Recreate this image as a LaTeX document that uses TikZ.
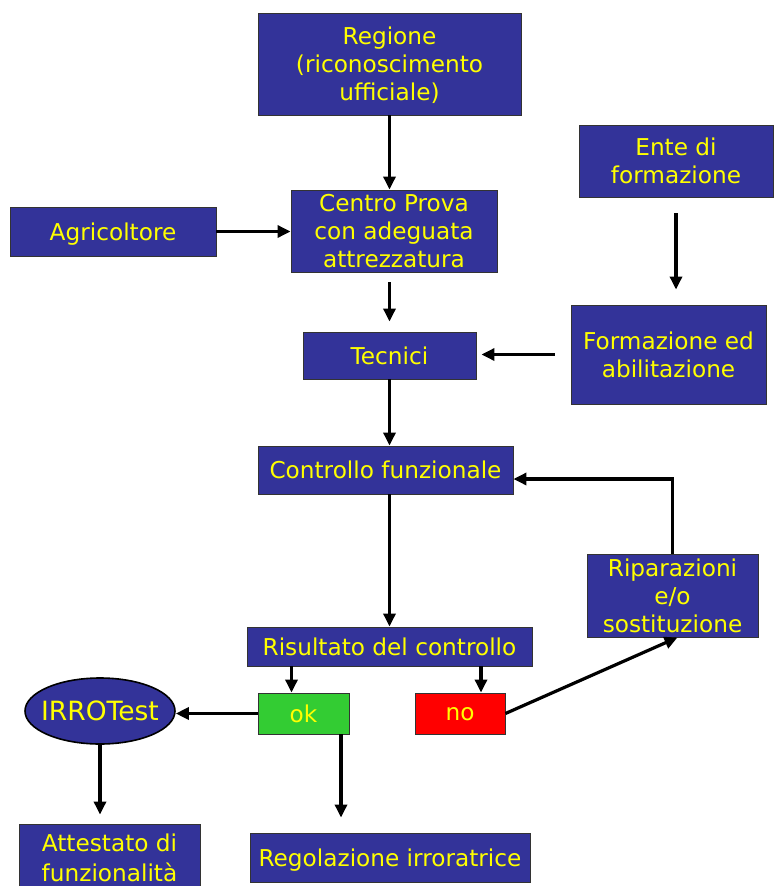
\documentclass[tikz,border=0pt]{standalone}
\usepackage{fontspec}
\setmainfont{DejaVu Sans}
\usetikzlibrary{arrows.meta,shapes.geometric}
\definecolor{boxblue}{HTML}{333399}
\definecolor{txtyellow}{HTML}{FFFF00}
\definecolor{okgreen}{HTML}{33CC33}
\definecolor{nored}{HTML}{FF0000}
\tikzset{
  box/.style={draw=black!80, line width=0.9pt, fill=boxblue, text=txtyellow, align=center, inner sep=0pt, text depth=0pt, font=\fontsize{23.2}{28}\selectfont},
  arr/.style={line width=3.2pt, -{Triangle[length=13pt,width=12pt]}},
}
\begin{document}
\begin{tikzpicture}[x=1pt,y=-1pt]
\clip (0,0) rectangle (775,886);
\fill[white] (0,0) rectangle (775,886);
\node[box, minimum width=263pt, minimum height=102pt] (reg) at (389.5,64) {Regione\\(riconoscimento\\ufficiale)};
\node[box, minimum width=206pt, minimum height=82pt] (centro) at (394,231) {Centro Prova\\con adeguata\\attrezzatura};
\node[box, minimum width=206pt, minimum height=49pt] (agri) at (113,231.5) {Agricoltore};
\node[box, minimum width=194pt, minimum height=72pt] (ente) at (676,161) {Ente di\\formazione};
\node[box, minimum width=195pt, minimum height=99pt] (form) at (668.5,354.5) {Formazione ed\\abilitazione};
\node[box, minimum width=173pt, minimum height=47pt] (tec) at (389.5,355.5) {Tecnici};
\node[box, minimum width=255pt, minimum height=48pt] (ctrl) at (385.5,470) {Controllo funzionale};
\node[box, minimum width=171pt, minimum height=83pt] (rip) at (672.5,595.5) {Riparazioni\\e/o\\sostituzione};
\node[box, minimum width=285pt, minimum height=39pt] (ris) at (389.5,646.5) {Risultato del controllo};
\node[box, fill=okgreen, minimum width=91pt, minimum height=41pt] (ok) at (303.5,713.5) {ok};
\node[box, fill=nored, minimum width=90pt, minimum height=41pt] (no) at (460,713.5) {no};
\node[box, ellipse, draw=black, line width=1.6pt, inner xsep=-8pt, minimum width=150pt, minimum height=66pt, font=\fontsize{26.5}{30}\selectfont] (irro) at (100,711) {IRROTest};
\node[box, minimum width=181pt, minimum height=68pt, font=\fontsize{23.2}{30}\selectfont] (att) at (109.5,858) {Attestato di\\funzionalità};
\node[box, minimum width=280pt, minimum height=49pt] (rego) at (390,857.5) {Regolazione irroratrice};

\coordinate (okin) at ([xshift=-12pt]ok.north);
\coordinate (noin) at ([xshift=21pt]no.north);
\coordinate (okout) at ([xshift=37.5pt]ok.south);
\coordinate (ripin) at ([xshift=5pt]rip.south);
\coordinate (ctrlback) at ([yshift=-9pt]ctrl.east);

\draw[arr] (reg.south) -- (reg.south |- centro.north);
\draw[arr] (agri.east) -- (agri.east -| centro.west);
\draw[arr, shorten <=10pt, shorten >=10pt] (tec.north |- centro.south) -- (tec.north);
\draw[arr, shorten <=16pt, shorten >=15pt] (ente.south) -- (ente.south |- form.north);
\draw[arr, shorten <=16pt, shorten >=5pt] (form.west) -- (form.west -| tec.east);
\draw[arr] (tec.south) -- (tec.south |- ctrl.north);
\draw[arr] (ris.north |- ctrl.south) -- (ris.north);
\draw[arr] (rip.north) |- (ctrlback);
\draw[arr] (no.east) -- (ripin);
\draw[arr] (okin |- ris.south) -- (okin);
\draw[arr] (noin |- ris.south) -- (noin);
\draw[arr] (ok.west) -- (ok.west -| irro.east);
\draw[arr, shorten >=9pt] (irro.south) -- (irro.south |- att.north);
\draw[arr, shorten >=15pt] (okout) -- (okout |- rego.north);
\end{tikzpicture}
\end{document}
